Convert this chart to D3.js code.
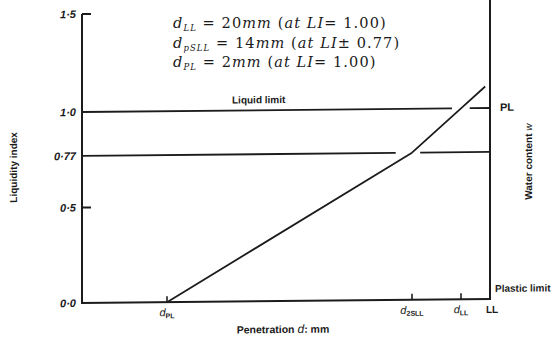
<!DOCTYPE html>
<html>
<head>
<meta charset="utf-8">
<script src="https://cdn.jsdelivr.net/npm/d3@7"></script>
<style>
  html, body { margin: 0; padding: 0; background: #fff; }
  svg { display: block; }
  .lbl { font-family: "Liberation Sans", Arial, sans-serif; fill: #1a1a1a; }
  .eq { font-family: "DejaVu Serif", "Liberation Serif", serif; fill: #1a1a1a; letter-spacing: 1.1px; }
</style>
</head>
<body>
<svg id="chart" width="560" height="343"></svg>
<script>
// Penetration depths (mm) marked on the horizontal axis
const depthValues = [2, 14, 20];
const depthTickLabels = [["d", "PL"], ["d", "2SLL"], ["d", "LL"]];
const depthMax = 23;            // end of axis, marked "LL"

// Liquidity index ticks
const liTicks      = [0, 0.5, 0.77, 1.0, 1.5];
const liTickLabels = ["0·0", "0·5", "0·77", "1·0", "1·5"];

// Penetration – liquidity index relation (two straight segments)
const curveDepth = [2, 14, 20, 22.5];
const curveLI    = [0, 0.77, 1.0, 1.11];

// Horizontal reference levels and the breaks left where the curve passes
const levelLI     = [1.0, 0.77];
const levelGapLo  = [18.9, 13.2];
const levelGapHi  = [20.9, 15.0];

// Equation block
const eqKeys    = ["LL", "pSLL", "PL"];
const eqDepthMM = [20, 14, 2];
const eqLIText  = ["= 1.00)", "± 0.77)", "= 1.00)"];

const svg = d3.select("#chart");
const x0 = 82, x1 = 490, yBase = 303;

// Schematic (piecewise) axes
const x = d3.scaleLinear()
  .domain([0, depthValues[0], depthValues[1], depthValues[2], depthMax])
  .range([x0, 167, 412, 461, x1]);
const y = d3.scaleLinear()
  .domain([0, 1.0, 1.5])
  .range([yBase, 112, 14]);

const g = svg.append("g")
  .attr("transform", `translate(${x0},0) skewY(-0.56) translate(${-x0},0)`);

const ink = "#1c1c1c";

// Left axis (liquidity index)
g.append("line").attr("x1", x0).attr("x2", x0).attr("y1", y(1.5)).attr("y2", yBase)
  .attr("stroke", ink).attr("stroke-width", 2);
// Right axis (water content)
g.append("line").attr("x1", x1).attr("x2", x1).attr("y1", -5).attr("y2", yBase + 1)
  .attr("stroke", ink).attr("stroke-width", 2);
// Bottom axis (penetration)
g.append("line").attr("x1", x0 - 1).attr("x2", x1 + 1).attr("y1", yBase).attr("y2", yBase)
  .attr("stroke", ink).attr("stroke-width", 2);

// Inner tick marks on the LI axis
g.selectAll("line.ytick").data([1.5, 0.5]).enter().append("line")
  .attr("class", "ytick")
  .attr("x1", x0).attr("x2", x0 + 9)
  .attr("y1", d => y(d)).attr("y2", d => y(d))
  .attr("stroke", ink).attr("stroke-width", 2);

// LI tick labels
g.selectAll("text.ylab").data(liTicks).enter().append("text")
  .attr("class", "lbl ylab")
  .attr("x", x0 - 6).attr("y", d => y(d) + 4)
  .attr("text-anchor", "end")
  .attr("font-size", 11).attr("font-style", "italic").attr("font-weight", "bold")
  .text((d, i) => liTickLabels[i]);

// Penetration tick marks
g.selectAll("line.xtick").data(depthValues).enter().append("line")
  .attr("class", "xtick")
  .attr("x1", d => x(d)).attr("x2", d => x(d))
  .attr("y1", yBase - 6).attr("y2", yBase)
  .attr("stroke", ink).attr("stroke-width", 1.6);

// Penetration tick labels (d with subscript)
const xl = g.selectAll("text.xlab").data(depthValues).enter().append("text")
  .attr("class", "lbl xlab")
  .attr("x", d => x(d)).attr("y", yBase + 14)
  .attr("text-anchor", "middle");
xl.append("tspan").attr("font-size", 11).attr("font-style", "italic")
  .text((d, i) => depthTickLabels[i][0]);
xl.append("tspan").attr("font-size", 7).attr("font-weight", "bold").attr("dy", 2)
  .text((d, i) => depthTickLabels[i][1]);

g.append("text").attr("class", "lbl")
  .attr("x", x(depthMax) + 2).attr("y", yBase + 14).attr("text-anchor", "middle")
  .attr("font-size", 10).attr("font-weight", "bold").text("LL");

// Horizontal reference levels, broken where the curve crosses
levelLI.forEach((li, i) => {
  const segs = [[0, levelGapLo[i]], [levelGapHi[i], depthMax]];
  g.selectAll(null).data(segs).enter().append("line")
    .attr("x1", s => x(s[0])).attr("x2", s => x(s[1]))
    .attr("y1", y(li)).attr("y2", y(li))
    .attr("stroke", ink).attr("stroke-width", 1.8);
});

// Curve
const pts = curveDepth.map((d, i) => [x(d), y(curveLI[i])]);
g.append("path")
  .attr("d", d3.line()(pts))
  .attr("fill", "none").attr("stroke", ink).attr("stroke-width", 1.8)
  .attr("stroke-linejoin", "round");

// Annotations
g.append("text").attr("class", "lbl")
  .attr("x", 232).attr("y", y(1.0) - 7)
  .attr("font-size", 10).attr("font-weight", "bold").text("Liquid limit");
g.append("text").attr("class", "lbl")
  .attr("x", x1 + 10).attr("y", y(1.0) + 3)
  .attr("font-size", 11).attr("font-weight", "bold").text("PL");
g.append("text").attr("class", "lbl")
  .attr("x", x1 + 5).attr("y", yBase - 7)
  .attr("font-size", 10).attr("font-weight", "bold").text("Plastic limit");

// Axis titles
const xt = g.append("text").attr("class", "lbl")
  .attr("x", 283).attr("y", 335).attr("text-anchor", "middle")
  .attr("font-size", 10.5).attr("font-weight", "bold");
xt.append("tspan").text("Penetration ");
xt.append("tspan").attr("font-style", "italic").attr("font-weight", "normal").attr("font-size", 12).text("d");
xt.append("tspan").text(": mm");

g.append("text").attr("class", "lbl")
  .attr("transform", `translate(17,${(y(0.77) + y(0.5)) / 2 - 15}) rotate(-90)`)
  .attr("text-anchor", "middle")
  .attr("font-size", 10).attr("font-weight", "bold").text("Liquidity index");

const wt = g.append("text").attr("class", "lbl")
  .attr("transform", `translate(532,166) rotate(-90)`)
  .attr("text-anchor", "middle")
  .attr("font-size", 10).attr("font-weight", "bold");
wt.append("tspan").text("Water content ");
wt.append("tspan").attr("font-style", "italic").attr("font-weight", "normal").text("w");

// Equation block
eqKeys.forEach((k, i) => {
  const t = svg.append("text").attr("class", "eq")
    .attr("x", 173).attr("y", 28 + i * 19.5).attr("font-size", 14.5);
  t.append("tspan").attr("font-style", "italic").text("d");
  t.append("tspan").attr("font-style", "italic").attr("font-size", 8.5).attr("dy", 3).text(k);
  t.append("tspan").attr("dy", -3).text(" = " + eqDepthMM[i]);
  t.append("tspan").attr("font-style", "italic").text("mm");
  t.append("tspan").text(" (");
  t.append("tspan").attr("font-style", "italic").text("at LI");
  t.append("tspan").text(eqLIText[i]);
});
</script>
</body>
</html>
